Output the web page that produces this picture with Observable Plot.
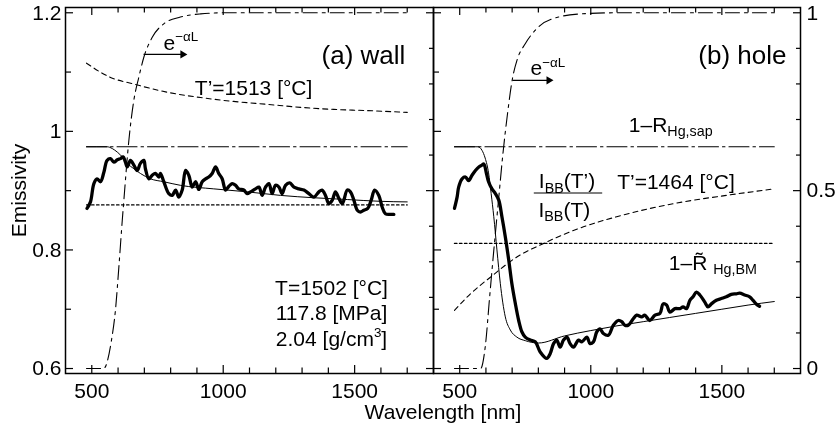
<!DOCTYPE html>
<html><head><meta charset="utf-8">
<script src="https://cdn.jsdelivr.net/npm/d3@7"></script>
<script src="https://cdn.jsdelivr.net/npm/@observablehq/plot@0.6"></script>
<style>
html,body{margin:0;padding:0;background:#fff;}
#chart{position:relative;width:835px;height:433px;}
#chart svg{position:absolute;top:0;overflow:visible;filter:grayscale(100%);}
</style></head><body><div id="chart"></div>
<script>
// ---------- data: (a) wall ----------
const wallMeasNm = [482,495,508,520,533,546,558,571,584,597,609,619,628,635,647,660,673,685,698,704,717,730,742,755,761,774,793,806,819,831,844,857,869,882,895,907,920,933,945,958,971,983,996,1009,1021,1034,1047,1059,1078,1091,1104,1123,1136,1148,1161,1174,1186,1199,1212,1224,1237,1253,1269,1288,1307,1326,1345,1364,1376,1389,1402,1415,1427,1440,1453,1472,1484,1497,1510,1522,1535,1550,1563,1576,1592,1605,1617,1636,1649];
const wallMeasEm = [0.870,0.881,0.912,0.920,0.915,0.931,0.951,0.954,0.948,0.952,0.954,0.957,0.948,0.940,0.951,0.943,0.934,0.946,0.951,0.937,0.920,0.926,0.929,0.923,0.929,0.915,0.895,0.892,0.901,0.889,0.901,0.934,0.926,0.906,0.915,0.902,0.915,0.920,0.923,0.929,0.940,0.929,0.920,0.901,0.907,0.912,0.909,0.903,0.901,0.895,0.898,0.903,0.906,0.892,0.906,0.912,0.895,0.909,0.906,0.895,0.909,0.913,0.906,0.903,0.901,0.895,0.889,0.898,0.901,0.892,0.878,0.884,0.898,0.887,0.878,0.901,0.898,0.884,0.867,0.864,0.867,0.870,0.884,0.901,0.892,0.872,0.861,0.860,0.860];
const wallModelNm = [480,558,578,597,616,635,660,685,723,774,837,964,1091,1218,1345,1472,1598,1700];
const wallModelEm = [0.974,0.974,0.971,0.965,0.957,0.946,0.937,0.929,0.920,0.915,0.909,0.903,0.898,0.892,0.888,0.885,0.882,0.881];
const wallRsapNm = [480,1700];
const wallRsapEm = [0.974,0.974];
const wallRbmNm = [480,1700];
const wallRbmEm = [0.876,0.876];
const wallRatioNm = [480,571,658,787,914,1039,1169,1294,1420,1549,1700];
const wallRatioEm = [1.115,1.091,1.080,1.066,1.057,1.0505,1.0455,1.0405,1.037,1.035,1.032];
const wallAttenNm = [480,545,575,590,603,616,622,641,660,679,698,730,774,837,914,1000,1700];
const wallAttenR  = [0,0,0.08,0.164,0.285,0.417,0.473,0.641,0.754,0.819,0.875,0.931,0.969,0.988,0.997,1,1];

// ---------- data: (b) hole ----------
const holeMeasNm = [480,490,496,509,522,534,547,560,573,585,592,602,610,623,636,649,661,674,687,699,712,725,737,750,769,788,807,832,845,858,870,883,896,909,921,934,953,966,985,997,1010,1023,1035,1048,1067,1086,1105,1118,1130,1143,1162,1175,1194,1206,1225,1245,1264,1276,1289,1302,1321,1340,1352,1365,1378,1390,1403,1416,1435,1447,1460,1479,1498,1517,1536,1555,1568,1587,1606,1619,1631,1644];
const holeMeasEm = [0.870,0.889,0.906,0.920,0.923,0.917,0.926,0.934,0.940,0.943,0.945,0.929,0.915,0.903,0.895,0.884,0.856,0.822,0.783,0.743,0.710,0.681,0.662,0.653,0.648,0.645,0.628,0.617,0.625,0.642,0.648,0.636,0.648,0.653,0.642,0.636,0.648,0.645,0.653,0.642,0.645,0.662,0.667,0.659,0.656,0.673,0.681,0.679,0.673,0.673,0.684,0.690,0.687,0.690,0.681,0.690,0.693,0.709,0.707,0.695,0.701,0.701,0.704,0.701,0.715,0.721,0.729,0.724,0.712,0.704,0.709,0.715,0.718,0.721,0.725,0.726,0.727,0.724,0.721,0.715,0.709,0.705];
const holeModelNm = [480,570,585,597,610,620,630,642,655,664,674,693,718,750,800,900,1000,1100,1200,1300,1400,1500,1600,1700];
const holeModelEm = [0.974,0.974,0.968,0.955,0.930,0.895,0.856,0.800,0.743,0.712,0.687,0.665,0.653,0.647,0.643,0.655,0.664,0.672,0.679,0.686,0.693,0.700,0.707,0.713];
const holeRsapNm = [480,1700];
const holeRsapEm = [0.974,0.974];
const holeRbmNm = [480,1700];
const holeRbmEm = [0.811,0.811];
const holeRatioNm = [480,541,617,718,820,972,1099,1226,1352,1517,1700];
const holeRatioEm = [0.698,0.726,0.754,0.788,0.811,0.839,0.856,0.870,0.881,0.892,0.903];
const holeAttenNm = [480,580,598,614,630,648,665,683,700,720,750,800,877,966,1100,1700];
const holeAttenR  = [0,0,0.065,0.2,0.332,0.473,0.605,0.72,0.81,0.87,0.913,0.96,0.988,0.997,1,1];

// ---------- ticks ----------
const emMajor = [0.6,0.8,1.0,1.2];
const emMinor = [0.7,0.9,1.1];
const emLabels = [0.6,0.8,1,1.2];
const rMajor = [0,0.5,1];
const rMinor = [0.1,0.2,0.3,0.4,0.6,0.7,0.8,0.9];
const rLabels = [0,0.5,1];
const nmMajor = [500,1000,1500];
const nmMinor = [600,700,800,900,1100,1200,1300,1400,1600,1700];

// ---------- layout ----------
const FONT = '"Liberation Sans", Arial, Helvetica, sans-serif';
const H = 433, MT = 7, MB = 60, FH = H - MT - MB;
const xDomain = [400,1800], yDomain = [0.5916,1.2089];
const toLeft = r => 0.6 + 0.6 * r;
const pts = (xs, ys) => xs.map((x, i) => ({x, y: ys[i]}));
// text baseline placed at (x, y)
const label = (s, x, y, o = {}) => Plot.text([s], {x, y, text: d => d, textAnchor: "start", lineAnchor: "bottom", fill: "black", ...o});

function frameMarks(FW) {
  return [
    Plot.ruleY(emMajor, {y: d => d, insetRight: FW - 8, strokeWidth: 1.2}),
    Plot.ruleY(emMinor, {y: d => d, insetRight: FW - 6, strokeWidth: 1.2}),
    Plot.ruleY(rMajor, {y: toLeft, insetLeft: FW - 7, strokeWidth: 1.2}),
    Plot.ruleY(rMinor, {y: toLeft, insetLeft: FW - 4, strokeWidth: 1.2}),
    Plot.ruleX(nmMajor, {x: d => d, insetTop: FH - 8, strokeWidth: 1.2}),
    Plot.ruleX(nmMinor, {x: d => d, insetTop: FH - 5.5, strokeWidth: 1.2}),
    Plot.ruleX(nmMajor, {x: d => d, insetBottom: FH - 8, strokeWidth: 1.2}),
    Plot.ruleX(nmMinor, {x: d => d, insetBottom: FH - 5.5, strokeWidth: 1.2}),
    Plot.frame({strokeWidth: 1.5}),
    Plot.text(nmMajor, {x: d => d, text: d => String(d), frameAnchor: "bottom", lineAnchor: "bottom", dy: 24, fill: "black"})
  ];
}

function curveMarks(d) {
  return [
    Plot.line(pts(d.rbmNm, d.rbmEm), {x: "x", y: "y", strokeWidth: 1.3, strokeDasharray: "2.5,2.5"}),
    Plot.line(pts(d.rsapNm, d.rsapEm), {x: "x", y: "y", strokeWidth: 1.1, strokeDasharray: "20,4,2.5,4"}),
    Plot.line(pts(d.ratioNm, d.ratioEm), {x: "x", y: "y", strokeWidth: 1.1, strokeDasharray: "5,4", curve: "monotone-x"}),
    Plot.line(pts(d.attenNm, d.attenR), {x: "x", y: p => toLeft(p.y), strokeWidth: 1.1, strokeDasharray: "14,5,3,5", curve: "monotone-x"}),
    Plot.line(pts(d.modelNm, d.modelEm), {x: "x", y: "y", strokeWidth: 1, curve: "monotone-x"}),
    Plot.line(pts(d.measNm, d.measEm), {x: "x", y: "y", strokeWidth: 3.3, curve: "catmull-rom", strokeLinejoin: "round", strokeLinecap: "round"})
  ];
}

const common = {
  height: H, marginTop: MT, marginBottom: MB,
  x: {domain: xDomain, axis: null},
  y: {domain: yDomain, axis: null},
  style: {fontFamily: FONT, fontSize: "21px", background: "transparent", overflow: "visible", color: "black"}
};

// Left panel (a) wall
const left = Plot.plot({
  ...common, width: 433, marginLeft: 65, marginRight: 0,
  marks: [
    ...curveMarks({measNm: wallMeasNm, measEm: wallMeasEm, modelNm: wallModelNm, modelEm: wallModelEm,
      rsapNm: wallRsapNm, rsapEm: wallRsapEm, rbmNm: wallRbmNm, rbmEm: wallRbmEm,
      ratioNm: wallRatioNm, ratioEm: wallRatioEm, attenNm: wallAttenNm, attenR: wallAttenR}),
    ...frameMarks(368),
    Plot.text(emLabels, {y: d => d, text: d => String(d), frameAnchor: "left", textAnchor: "end", dx: -4, fill: "black"}),
    Plot.text(["Emissivity"], {text: d => d, frameAnchor: "left", dx: -46, rotate: -90, textAnchor: "middle", fill: "black"}),
    label("(a) wall", 1693, 1.1129, {textAnchor: "end", fontSize: 26}),
    label("e^{−αL}", 773, 1.138),
    Plot.link([0], {x1: 697, x2: 846, y1: 1.1298, y2: 1.1298, strokeWidth: 1.2}),
    Plot.dot([0], {x: 846, y: 1.1298, symbol: "triangle", rotate: 90, r: 3, fill: "black", stroke: "none"}),
    label("T’=1513 [°C]", 892, 1.0606),
    label("T=1502 [°C]", 1412, 0.7236, {textAnchor: "middle"}),
    label("117.8 [MPa]", 1412, 0.6814, {textAnchor: "middle"}),
    label("2.04 [g/cm^{3}]", 1412, 0.6376, {textAnchor: "middle"})
  ]
});

// Right panel (b) hole
const right = Plot.plot({
  ...common, width: 402, marginLeft: 0, marginRight: 35,
  marks: [
    ...curveMarks({measNm: holeMeasNm, measEm: holeMeasEm, modelNm: holeModelNm, modelEm: holeModelEm,
      rsapNm: holeRsapNm, rsapEm: holeRsapEm, rbmNm: holeRbmNm, rbmEm: holeRbmEm,
      ratioNm: holeRatioNm, ratioEm: holeRatioEm, attenNm: holeAttenNm, attenR: holeAttenR}),
    ...frameMarks(367),
    Plot.text(rLabels, {y: toLeft, text: d => String(d), frameAnchor: "right", textAnchor: "start", dx: 6, fill: "black"}),
    Plot.text(["Wavelength [nm]"], {text: d => d, frameAnchor: "bottom-left", dx: 9.5, dy: 45, textAnchor: "middle", lineAnchor: "bottom", fill: "black"}),
    label("(b) hole", 1746.6, 1.1129, {textAnchor: "end", fontSize: 26}),
    label("e^{−αL}", 770, 1.0944),
    Plot.link([0], {x1: 701, x2: 840, y1: 1.086, y2: 1.086, strokeWidth: 1.2}),
    Plot.dot([0], {x: 840, y: 1.086, symbol: "triangle", rotate: 90, r: 3, fill: "black", stroke: "none"}),
    label("1–R_{Hg,sap}", 1145, 0.9988),
    label("I_{BB}(T’)", 801.7, 0.9038),
    Plot.link([0], {x1: 782.6, x2: 1043.5, y1: 0.896, y2: 0.896, strokeWidth: 1.2}),
    label("I_{BB}(T)", 800.5, 0.8555),
    label("T’=1464 [°C]", 1100.7, 0.9034),
    label("1–R\u0303 _{Hg,BM}", 1297.6, 0.7657)
  ]
});

const chart = document.getElementById("chart");
left.style.left = "0px";
right.style.left = "433px";
chart.appendChild(left);
chart.appendChild(right);

// sub/superscript markup -> tspans
function richify(svg) {
  svg.querySelectorAll("text").forEach(t => {
    const s = t.textContent;
    if (!/[_^]\{/.test(s)) return;
    const fs = parseFloat(getComputedStyle(t).fontSize) || 21;
    while (t.firstChild) t.removeChild(t.firstChild);
    let shift = 0;
    for (const p of s.split(/([_^]\{[^}]*\})/).filter(q => q.length)) {
      const ts = document.createElementNS("http://www.w3.org/2000/svg", "tspan");
      let target = 0, txt = p, size = null;
      if (p.startsWith("_{")) { target = 0.2 * fs; txt = p.slice(2, -1); size = 0.68 * fs; }
      else if (p.startsWith("^{")) { target = -0.42 * fs; txt = p.slice(2, -1); size = 0.64 * fs; }
      const dy = target - shift;
      if (dy) ts.setAttribute("dy", dy.toFixed(2));
      shift = target;
      if (size) ts.setAttribute("font-size", size.toFixed(1));
      ts.textContent = txt;
      t.appendChild(ts);
    }
  });
}
richify(left);
richify(right);
</script></body></html>
